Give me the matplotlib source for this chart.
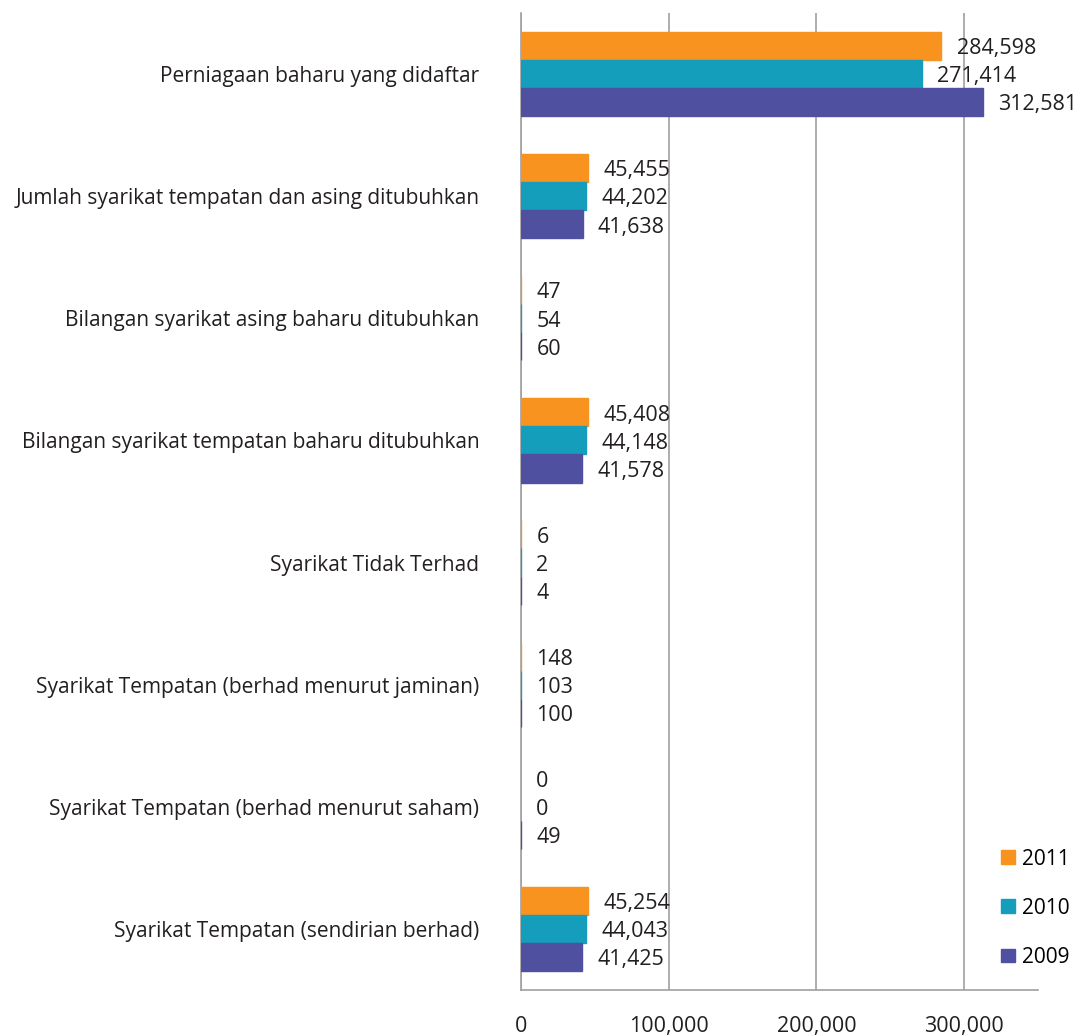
import matplotlib.pyplot as plt
from matplotlib.patches import Patch
import numpy as np

plt.rcParams['font.family'] = ['Open Sans', 'DejaVu Sans']

categories = ["Perniagaan baharu yang didaftar",
              "Jumlah syarikat tempatan dan asing ditubuhkan",
              "Bilangan syarikat asing baharu ditubuhkan",
              "Bilangan syarikat tempatan baharu ditubuhkan",
              "Syarikat Tidak Terhad",
              "Syarikat Tempatan (berhad menurut jaminan)",
              "Syarikat Tempatan (berhad menurut saham)",
              "Syarikat Tempatan (sendirian berhad)"]
v2011 = [284598, 45455, 47, 45408, 6, 148, 0, 45254]
v2010 = [271414, 44202, 54, 44148, 2, 103, 0, 44043]
v2009 = [312581, 41638, 60, 41578, 4, 100, 49, 41425]
years = ["2011", "2010", "2009"]
colors = ["#F7931E", "#149EBC", "#5050A0"]
xticks = [0, 100000, 200000, 300000]
xticklabels = ["0", "100,000", "200,000", "300,000"]

fig = plt.figure(figsize=(10.78, 10.36), dpi=100)
ax = fig.add_axes([0.4833, 0.0444, 0.4797, 0.9431])

y = np.arange(len(categories))
h = 0.23
series = [v2011, v2010, v2009]
for i, (vals, c) in enumerate(zip(series, colors)):
    pos = y + (i - 1) * h
    # thin outline so tiny values still show as a line at zero
    lw = [1.0 if v > 0 else 0 for v in vals]
    ax.barh(pos, vals, height=h, color=c, edgecolor=c, linewidth=lw, zorder=3)
    for p, v in zip(pos, vals):
        ax.annotate(f"{v:,}", (v, p), xytext=(11, -2), textcoords="offset points",
                    va="center", ha="left", fontsize=15.5, color="#231F20")

ax.set_ylim(7.5, -0.5)
ax.set_xlim(0, 350000)
ax.set_yticks(y)
ax.set_yticklabels(categories, fontsize=15, color="#231F20")
ax.set_xticks(xticks)
ax.set_xticklabels(xticklabels, fontsize=15.5, color="#231F20")
ax.tick_params(axis="y", length=0, pad=30)
ax.tick_params(axis="x", length=0, pad=19)
ax.grid(axis="x", color="#A0A0A0", linewidth=1.2, zorder=0)
for s in ["top", "right"]:
    ax.spines[s].set_visible(False)
ax.spines["left"].set_color("#A0A0A0")
ax.spines["bottom"].set_color("#A0A0A0")
ax.spines["left"].set_linewidth(1.2)
ax.spines["bottom"].set_linewidth(1.2)

handles = [Patch(color=c, label=l) for c, l in zip(colors, years)]
fig.legend(handles=handles, loc="upper left", bbox_to_anchor=(0.921, 0.189),
           frameon=False, fontsize=15, handlelength=0.65, handleheight=0.65,
           handletextpad=0.35, labelspacing=1.35, borderaxespad=0)

fig.savefig("out.png", dpi=100)
